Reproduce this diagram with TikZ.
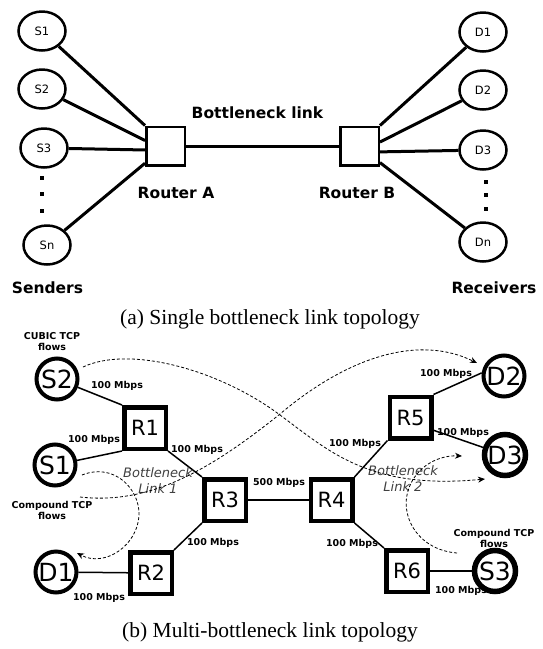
\documentclass[tikz,border=0pt]{standalone}
\usepackage{fontspec}
\setmainfont{Liberation Serif}
\setsansfont{DejaVu Sans}
\usetikzlibrary{shapes.geometric, arrows.meta}

\begin{document}
\begin{tikzpicture}[x=1pt, y=-1pt,
    host/.style={ellipse, draw, line width=2.5pt, minimum width=47pt, minimum height=39pt, inner sep=0pt, font=\sffamily\fontsize{11.5}{13}\selectfont},
    router/.style={draw, line width=2.5pt, minimum size=38.5pt, inner sep=0pt},
    wire/.style={line width=3pt},
    biglabel/.style={font=\sffamily\bfseries\fontsize{15.5}{18}\selectfont, inner sep=0pt},
    pc/.style={circle, draw, line width=4pt, minimum size=41pt, inner sep=0pt, font=\sffamily\fontsize{25}{28}\selectfont},
    rt/.style={draw, line width=4.5pt, minimum size=41.5pt, inner sep=0pt, font=\sffamily\fontsize{21}{24}\selectfont},
    link/.style={line width=1.5pt},
    rate/.style={font=\sffamily\bfseries\fontsize{9.5}{11}\selectfont, inner sep=0pt, align=center},
    neck/.style={font=\sffamily\itshape\fontsize{13}{16}\selectfont, text=black!75, inner sep=0pt, align=center},
    flow/.style={dash pattern=on 3pt off 2pt, line width=0.8pt, -{Stealth[length=7pt, width=6pt]}},
    caption/.style={font=\rmfamily\fontsize{21.5}{25}\selectfont, inner sep=0pt}]
\useasboundingbox (0,0) rectangle (543,649);

% (a) single bottleneck
\foreach \i/\x/\y in {1/42/31, 2/42/89, 3/44/148, n/47/245} {
    \node[host] (S\i) at (\x,\y) {S\i};
}
\foreach \i/\y in {1/32, 2/90, 3/150, n/242} {
    \node[host] (D\i) at (483,\y) {D\i};
}
\node[router] (RA) at (165.5,146) {};
\node[router] (RB) at (359.5,146) {};
\foreach \y in {178,194,211} {
    \fill (42,\y) +(-2.3,-2.3) rectangle +(2.3,2.3);
}
\foreach \y in {182,195,209} {
    \fill (486,\y) +(-2.3,-2.3) rectangle +(2.3,2.3);
}
\foreach \s/\p in {S1/north west, S2/165, S3/191, Sn/220} {
    \draw[wire] (\s) -- (RA.\p);
}
\foreach \d/\p in {D1/north east, D2/11, D3/-16, Dn/-39} {
    \draw[wire] (\d) -- (RB.\p);
}
\draw[wire] (RA) -- (RB);
\node[biglabel] (neckA) at (257.5,113) {Bottleneck link};
\node[biglabel] (labA) at (176,193) {Router A};
\node[biglabel] (labB) at (357,193) {Router B};
\node[biglabel] (snd) at (47.5,288) {Senders};
\node[biglabel] (rcv) at (494,288) {Receivers};
\node[caption] (capa) at (270,319) {(a) Single bottleneck link topology};

% (b) multi bottleneck
\node[pc] (s2) at (57,379) {S2};
\node[pc] (s1) at (55,465) {S1};
\node[pc] (d1) at (56,572) {D1};
\node[pc] (d2) at (504,376) {D2};
\node[pc, line width=5.5pt] (d3) at (505,455) {D3};
\node[pc, line width=5.5pt] (s3) at (495,571) {S3};
\node[rt] (R1) at (145,428) {R1};
\node[rt] (R2) at (151,573) {R2};
\node[rt] (R3) at (225,500) {R3};
\node[rt] (R4) at (331.5,500) {R4};
\node[rt] (R5) at (410.5,417.5) {R5};
\node[rt] (R6) at (407,571) {R6};
\foreach \a/\b in {s2/R1.north west, s1/R1.south west, R1.south east/R3.north west,
                   R3.south west/R2.north east, d1/R2, R3/R4, R4.north east/R5.south west,
                   R5.north east/d2.172, R5.-29/d3, R4.south east/R6.north west, R6/s3} {
    \draw[link] (\a) -- (\b);
}
\foreach \x/\y [count=\k] in {117/386, 94/440, 197/450, 213/543, 99/598,
                              355/444, 446/374, 463/433, 352/544, 461/591} {
    \node[rate] (m\k) at (\x,\y) {100 Mbps};
}
\node[rate] (m500) at (279,483) {500 Mbps};
\node[rate] (cubic) at (52,342) {CUBIC TCP\\flows};
\node[rate] (cmpL) at (52,510) {Compound TCP\\flows};
\node[rate] (cmpR) at (494,538) {Compound TCP\\flows};
\node[neck] (bn1) at (158,481) {Bottleneck\\Link 1};
\node[neck] (bn2) at (403,479) {Bottleneck\\Link 2};

% flows
\coordinate (fa) at (83,367);
\coordinate (fat) at (485,479);
\coordinate (fb) at (80,497);
\coordinate (fbt) at (477,363);
\coordinate (fc) at (82,475);
\coordinate (fct) at (77,553);
\coordinate (fd) at (457,553);
\coordinate (fdt) at (462,456);
\draw[flow] (fa) .. controls (130,345) and (220,370) .. (280,415) .. controls (330,452) and (370,490) .. (fat);
\draw[flow] (fb) .. controls (150,505) and (210,470) .. (280,414) .. controls (350,355) and (420,335) .. (fbt);
\draw[flow] (fc) .. controls (115,462) and (140,490) .. (139,515) .. controls (138,545) and (105,568) .. (fct);
\draw[flow] (fd) .. controls (420,550) and (402,520) .. (407,495) .. controls (412,470) and (435,455) .. (fdt);

\node[caption] (capb) at (270,632) {(b) Multi-bottleneck link topology};
\end{tikzpicture}
\end{document}
